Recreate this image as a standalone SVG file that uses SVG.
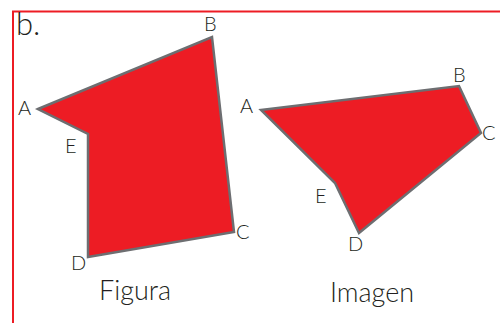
<svg xmlns="http://www.w3.org/2000/svg" width="500" height="323" viewBox="0 0 500 323">
<style>
.poly{fill:#ED1C24;stroke:#6D6E71;stroke-width:2.5;stroke-linejoin:miter}
.lbl{font-family:"Lato","DejaVu Sans",sans-serif;font-size:20px;fill:#231F20;font-weight:300}
.cap{font-family:"Lato","DejaVu Sans",sans-serif;font-size:27px;fill:#231F20;font-weight:300}
</style>
<rect width="500" height="323" fill="#fff"/>
<path d="M13,323 V11.5 H500" fill="none" stroke="#ED1C24" stroke-width="2"/>
<text x="16" y="35" font-family="Lato,'DejaVu Sans',sans-serif" font-size="31" font-weight="300" fill="#231F20">b.</text>
<g id="figura">
<polygon class="poly" points="38,109 212,37 234,232 88,257 88,134"/>
<text class="lbl" x="18" y="115">A</text>
<text class="lbl" x="204" y="31">B</text>
<text class="lbl" x="236" y="239">C</text>
<text class="lbl" x="71" y="270">D</text>
<text class="lbl" x="65" y="153">E</text>
<text class="cap" x="99" y="300">Figura</text>
</g>
<g id="imagen">
<polygon class="poly" points="261,110 459,86 481,133 359,233 335,183"/>
<text class="lbl" x="240" y="113">A</text>
<text class="lbl" x="453" y="82">B</text>
<text class="lbl" x="482" y="140">C</text>
<text class="lbl" x="348" y="251">D</text>
<text class="lbl" x="315" y="203">E</text>
<text class="cap" x="330" y="302">Imagen</text>
</g>
</svg>
